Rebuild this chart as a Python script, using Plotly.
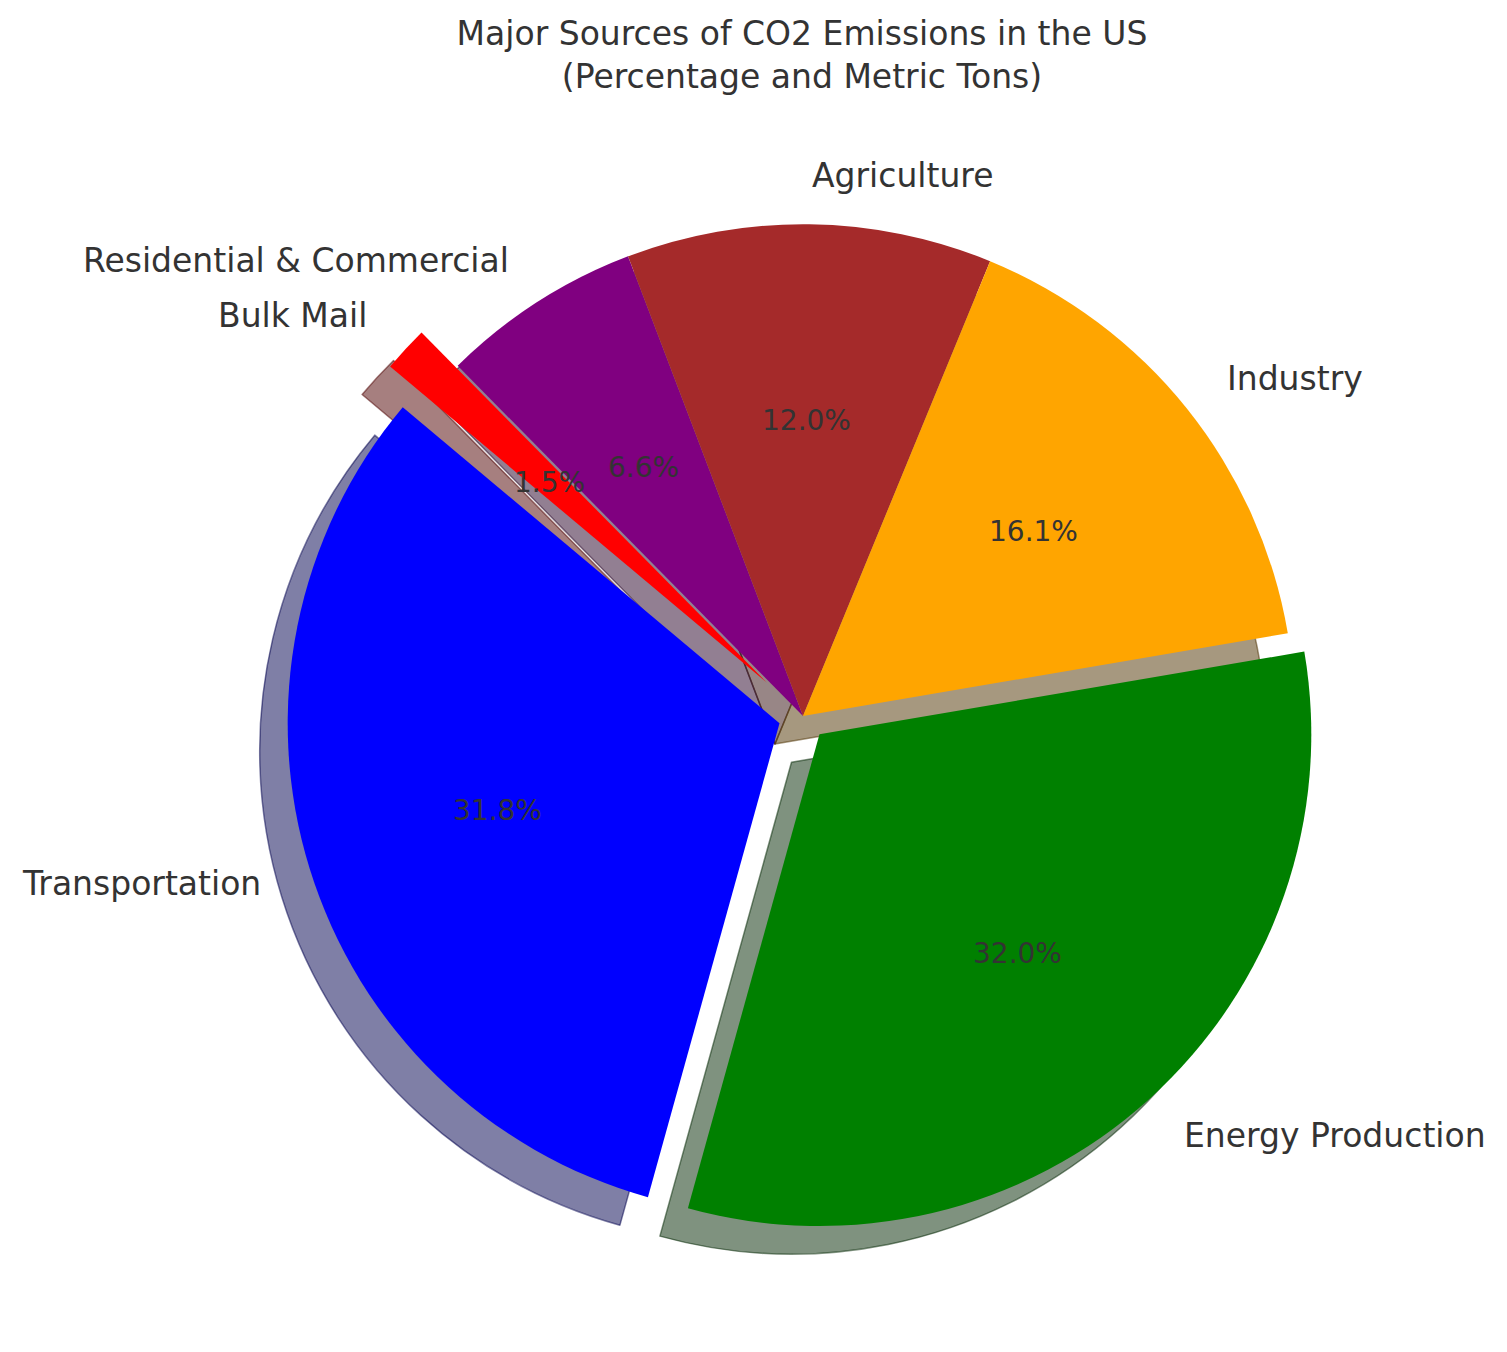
import math
import plotly.graph_objects as go

# data, listed clockwise starting at the 140 degree edge
sources = ['Bulk Mail', 'Residential & Commercial', 'Agriculture', 'Industry',
           'Energy Production', 'Transportation']
shares = [1.5, 6.6, 12.0, 16.1, 32.0, 31.8]
colors = ['red', 'purple', 'brown', 'orange', 'green', 'blue']
shadow_colors = ['rgba(77,0,0,0.5)', 'rgba(38,0,38,0.5)', 'rgba(50,13,13,0.5)',
                 'rgba(77,50,0,0.5)', 'rgba(0,38,0,0.5)', 'rgba(0,0,77,0.5)']
explode = [0.1, 0, 0, 0, 0.05, 0.05]
start_angle = 140

W, H = 1507, 1352
cx, cy = 795, 708          # pie centre in pixels
half = 541                 # half of the pie box
sx, sy = 28, 28            # shadow offset in pixels
r = half / (1 + max(explode))

dom_x = [(cx - half) / W, (cx + half) / W]
dom_y = [1 - (cy + half) / H, 1 - (cy - half) / H]
sh_x = [dom_x[0] - sx / W, dom_x[1] - sx / W]
sh_y = [dom_y[0] - sy / H, dom_y[1] - sy / H]

text_color = '#333333'
font_name = 'DejaVu Sans'
common = dict(labels=sources, values=shares, sort=False,
              direction='clockwise', rotation=90 - start_angle, pull=explode,
              hoverinfo='skip', textinfo='none', showlegend=False)

fig = go.Figure()

# shadow
fig.add_trace(go.Pie(
    **common,
    domain=dict(x=sh_x, y=sh_y),
    marker=dict(colors=shadow_colors, line=dict(color=shadow_colors, width=1.5))
))

# wedges
fig.add_trace(go.Pie(
    **common,
    domain=dict(x=dom_x, y=dom_y),
    marker=dict(colors=colors, line=dict(width=0))
))

# labels and percentages, placed like matplotlib (1.1 and 0.6 of the radius)
total = sum(shares)
cum = 0
for name, val, ex in zip(sources, shares, explode):
    mid = math.radians(start_angle - (cum + val / 2) / total * 360)
    cum += val
    c, s = math.cos(mid), math.sin(mid)
    lx, ly = (1.1 + ex) * c, (1.1 + ex) * s
    fig.add_annotation(x=lx, y=ly, xref='x', yref='y', text=name,
                       showarrow=False, xanchor='left' if lx > 0 else 'right',
                       yanchor='middle',
                       font=dict(size=33, color=text_color, family=font_name))
    px_, py_ = (0.6 + ex) * c, (0.6 + ex) * s
    fig.add_annotation(x=px_, y=py_, xref='x', yref='y',
                       text=f'{val / total * 100:.1f}%',
                       showarrow=False, xanchor='center', yanchor='middle',
                       font=dict(size=28, color=text_color, family=font_name))

fig.update_xaxes(range=[-cx / r, (W - cx) / r], visible=False, fixedrange=True)
fig.update_yaxes(range=[-(H - cy) / r, cy / r], visible=False, fixedrange=True)

fig.update_layout(
    title=dict(
        text='Major Sources of CO2 Emissions in the US<br>(Percentage and Metric Tons)',
        x=794 / W, xanchor='center',
        y=1 - 37 / H, yanchor='top', yref='container',
        font=dict(size=33, color=text_color, family=font_name)
    ),
    width=W, height=H,
    margin=dict(l=0, r=0, t=0, b=0),
    paper_bgcolor='white',
    plot_bgcolor='white',
    font=dict(family=font_name, color=text_color)
)

fig.write_html('out.html')
